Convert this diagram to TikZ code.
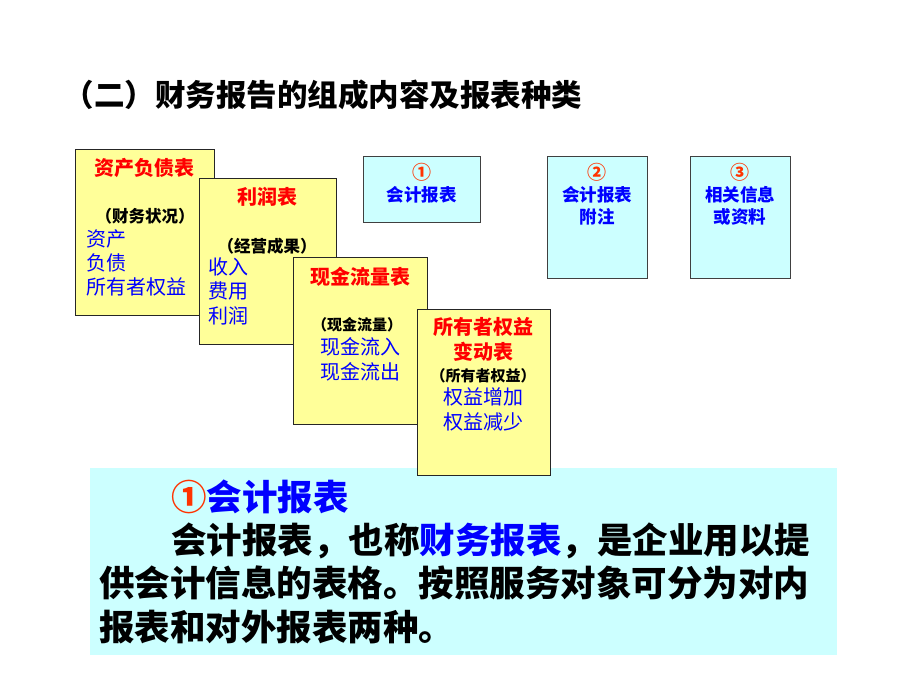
\documentclass[tikz,border=0pt]{standalone}
\usepackage{fontspec}
\setmainfont{Noto Sans CJK SC}
\definecolor{yfill}{HTML}{FFFF99}
\definecolor{cfill}{HTML}{CCFFFF}
\definecolor{tred}{HTML}{FF0000}
\definecolor{tblue}{HTML}{0000FF}
\definecolor{circ}{HTML}{FF3300}
\newcommand{\fs}[1]{\fontsize{#1}{#1}\selectfont}
\begin{document}
\begin{tikzpicture}[x=1pt,y=-1pt,
  ybox/.style={draw=black!85, line width=0.9pt, fill=yfill, inner sep=0, anchor=north west},
  cbox/.style={draw=black!75, line width=0.9pt, fill=cfill, inner sep=0, anchor=north west},
  bbox/.style={fill=cfill, inner sep=0, anchor=north west},
  txt/.style={inner sep=0, anchor=base},
  txtw/.style={inner sep=0, anchor=base west},
  rtitle/.style={txt, text=tred, font=\fs{20}\bfseries},
  paren/.style={txt, text=black, font=\fs{#1}\bfseries},
  item/.style={txt, text=tblue, font=\fs{20}},
  itemw/.style={txtw, text=tblue, font=\fs{20}},
  sbt/.style={txt, text=tblue, font=\fs{17.5}\bfseries},
  snum/.style={txt, text=circ, font=\fs{19}\bfseries},
  body/.style={txtw, text=black, font=\fs{35.5}\bfseries}
]
\useasboundingbox[fill=white] (0,0) rectangle (920,690);

% title
\node[txtw, font=\fs{30.5}\bfseries] (title) at (63.5,106.5) {（二）财务报告的组成内容及报表种类};

% bottom explanation box
\node[bbox, minimum width=747pt, minimum height=187pt] (expl) at (90,468) {};

% yellow stacked boxes
\node[ybox, minimum width=139pt, minimum height=166pt] (bs) at (75,149) {};
\node[rtitle] (bsT) at (144.5,175.6) {资产负债表};
\node[paren=16.5] (bsP) at (145,222.2) {（财务状况）};
\node[itemw] (bs1) at (86,246.5) {资产};
\node[itemw] (bs2) at (86,270.5) {负债};
\node[itemw] (bs3) at (86,294.5) {所有者权益};

\node[ybox, minimum width=137pt, minimum height=166pt] (is) at (199,178) {};
\node[rtitle] (isT) at (267,204.6) {利润表};
\node[paren=16.5] (isP) at (267,252.2) {（经营成果）};
\node[itemw] (is1) at (208,274.6) {收入};
\node[itemw] (is2) at (208,298.6) {费用};
\node[itemw] (is3) at (208,323) {利润};

\node[ybox, minimum width=134pt, minimum height=167pt] (cf) at (293,257) {};
\node[rtitle] (cfT) at (360,284.6) {现金流量表};
\node[paren=15] (cfP) at (357,330.6) {（现金流量）};
\node[item] (cf1) at (360,354.6) {现金流入};
\node[item] (cf2) at (360,379.6) {现金流出};

\node[ybox, minimum width=133pt, minimum height=166pt] (eq) at (417,309) {};
\node[rtitle] (eqT1) at (483,334.6) {所有者权益};
\node[rtitle] (eqT2) at (483,359.6) {变动表};
\node[paren=15] (eqP) at (483,381.6) {（所有者权益）};
\node[item] (eq1) at (483,404.6) {权益增加};
\node[item] (eq2) at (483,429.6) {权益减少};

% cyan small boxes
\node[cbox, minimum width=117pt, minimum height=66pt] (c1) at (363,156) {};
\node[snum] (c1n) at (421.5,179) {①};
\node[sbt] (c1a) at (421.5,201.7) {会计报表};

\node[cbox, minimum width=100pt, minimum height=122pt] (c2) at (547,156) {};
\node[snum] (c2n) at (597,179) {②};
\node[sbt] (c2a) at (597,201.7) {会计报表};
\node[sbt] (c2b) at (597,223.7) {附注};

\node[cbox, minimum width=100pt, minimum height=122pt] (c3) at (690,156) {};
\node[snum] (c3n) at (740,179) {③};
\node[sbt] (c3a) at (740,201.7) {相关信息};
\node[sbt] (c3b) at (740,223.7) {或资料};

% explanation text
\node[body] (h) at (171,510.5) {\textcolor{circ}{①}\textcolor{tblue}{会计报表}};
\node[body] (l1) at (171,553.5) {会计报表，也称\textcolor{tblue}{财务报表}，是企业用以提};
\node[body] (l2) at (99,596.5) {供会计信息的表格。按照服务对象可分为对内};
\node[body] (l3) at (99,640) {报表和对外报表两种。};
\end{tikzpicture}
\end{document}
